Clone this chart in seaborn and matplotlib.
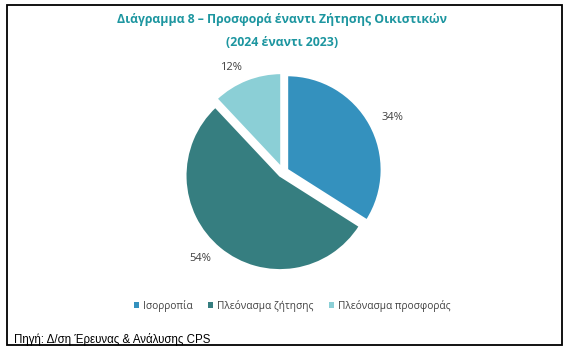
import matplotlib
matplotlib.use("Agg")
import matplotlib.pyplot as plt
import seaborn as sns
from matplotlib.patches import Rectangle, Patch

categories = ["Ισορροπία", "Πλεόνασμα ζήτησης", "Πλεόνασμα προσφοράς"]
values = [34, 54, 12]
pct_labels = ["34%", "54%", "12%"]
title_lines = ["Διάγραμμα 8 – Προσφορά έναντι Ζήτησης Οικιστικών", "(2024 έναντι 2023)"]
source_text = "Πηγή: Δ/ση Έρευνας & Ανάλυσης CPS"

sns.set_theme(style="white")
plt.rcParams['font.family'] = ['Open Sans', 'DejaVu Sans']

colors = sns.color_palette(["#3491BE", "#367E80", "#8BCFD6"])

W, H = 569, 352
fig = plt.figure(figsize=(W / 100, H / 100), dpi=100)
fig.patch.set_facecolor("white")

# pie axes: 1 data unit = r_px pixels, center at (cx, cy) px from top-left
r_px = 94.5
cx, cy = 283, 172
half = 1.5
ax = fig.add_axes([(cx - half * r_px) / W, (H - cy - half * r_px) / H,
                   2 * half * r_px / W, 2 * half * r_px / H])
wedges, texts = ax.pie(values, labels=pct_labels, colors=colors, startangle=90,
                       counterclock=False, explode=[0.05] * 3, labeldistance=1.14,
                       wedgeprops=dict(edgecolor="white", linewidth=1.5),
                       textprops=dict(fontsize=8, color="#404040"))
ax.set_xlim(-half, half)
ax.set_ylim(-half, half)
ax.set_aspect("equal")
ax.axis("off")

# title
fig.text(282 / W, 1 - 20 / H, title_lines[0], ha="center", va="center",
         fontsize=8.8, fontweight="bold", color="#1D96A0")
fig.text(282 / W, 1 - 42 / H, title_lines[1], ha="center", va="center",
         fontsize=8.8, fontweight="bold", color="#1D96A0")

# legend
handles = [Patch(facecolor=c, edgecolor="none") for c in colors]
fig.legend(handles, categories, loc="center", ncol=3,
           bbox_to_anchor=(292 / W, 1 - 306 / H), frameon=False,
           fontsize=7.3, handlelength=0.55, handleheight=0.55,
           handletextpad=0.35, columnspacing=1.5,
           labelcolor="#404040")

# source
fig.text(14 / W, 1 - 339 / H, source_text, ha="left", va="center",
         fontsize=8.3, color="black", family=["Liberation Sans", "DejaVu Sans"])

# border
fig.patches.append(Rectangle((7 / W, 1 - 345 / H), (562 - 7) / W, (345 - 5) / H,
                             transform=fig.transFigure, fill=False,
                             edgecolor="black", linewidth=1.3))

fig.savefig("out.png", dpi=100)
